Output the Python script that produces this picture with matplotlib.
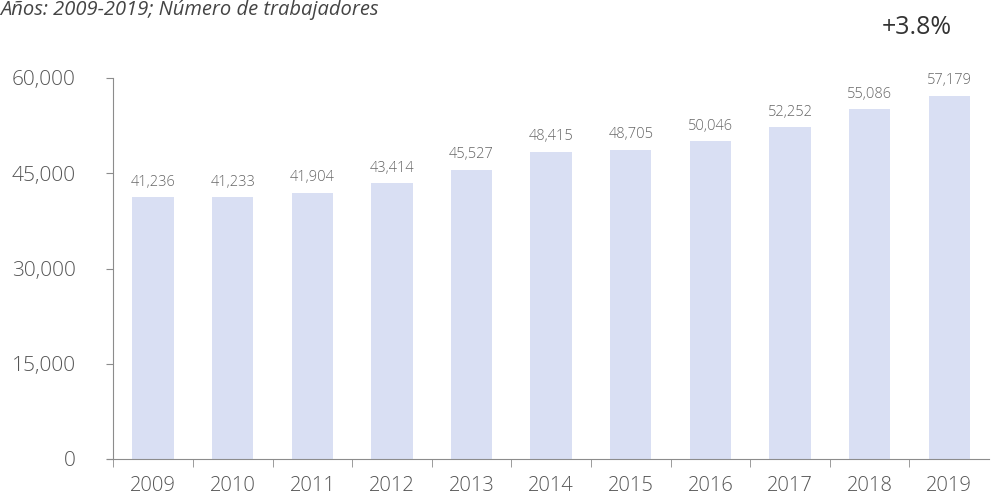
import numpy as np
import matplotlib.pyplot as plt

plt.rcParams['font.family'] = ['Open Sans', 'DejaVu Sans']

anios = ["2009", "2010", "2011", "2012", "2013", "2014", "2015", "2016", "2017", "2018", "2019"]
trabajadores = [41236, 41233, 41904, 43414, 45527, 48415, 48705, 50046, 52252, 55086, 57179]
yticks = [0, 15000, 30000, 45000, 60000]

gris = "#555555"
linea = "#8c8c8c"

fig = plt.figure(figsize=(9.91, 4.95), dpi=100)
ax = fig.add_axes([107/991, 1 - 459/495, (989 - 107)/991, (459 - 78)/495])

x = np.arange(len(anios))
ax.bar(x, trabajadores, width=0.52, color="#d9dff3")

# etiquetas encima de cada barra
for xi, v in zip(x, trabajadores):
    ax.text(xi, v + 1200, f"{v:,}", ha="center", va="bottom", fontsize=10.5,
            color="#666666", fontweight="light")

ax.set_xlim(-0.58, 10.5)
ax.set_ylim(0, 60000)

ax.spines['top'].set_visible(False)
ax.spines['right'].set_visible(False)
ax.spines['left'].set_position(('data', -0.5))
ax.spines['left'].set_color(linea)
ax.spines['bottom'].set_color(linea)

ax.set_yticks(yticks)
ax.set_yticklabels([f"{t:,}" for t in yticks])
ax.tick_params(axis='y', length=5, color=linea, pad=22, labelsize=15, labelcolor=gris)

ax.set_xticks(x)
ax.set_xticklabels(anios)
ax.set_xticks(np.arange(-0.5, 10, 1), minor=True)
ax.tick_params(axis='x', which='major', length=0, pad=12, labelsize=14.5, labelcolor=gris)
ax.tick_params(axis='x', which='minor', length=6, color=linea)

for lab in ax.get_yticklabels() + ax.get_xticklabels():
    lab.set_fontweight("light")

fig.text(0.0, 0.999, "Años: 2009-2019; Número de trabajadores", ha="left", va="top",
         fontsize=14.5, style="italic", color="#444444")
fig.text(917/991, 1 - 28/495, "+3.8%", ha="center", va="center", fontsize=18, color="#333333")

fig.savefig("out.png", dpi=100)
